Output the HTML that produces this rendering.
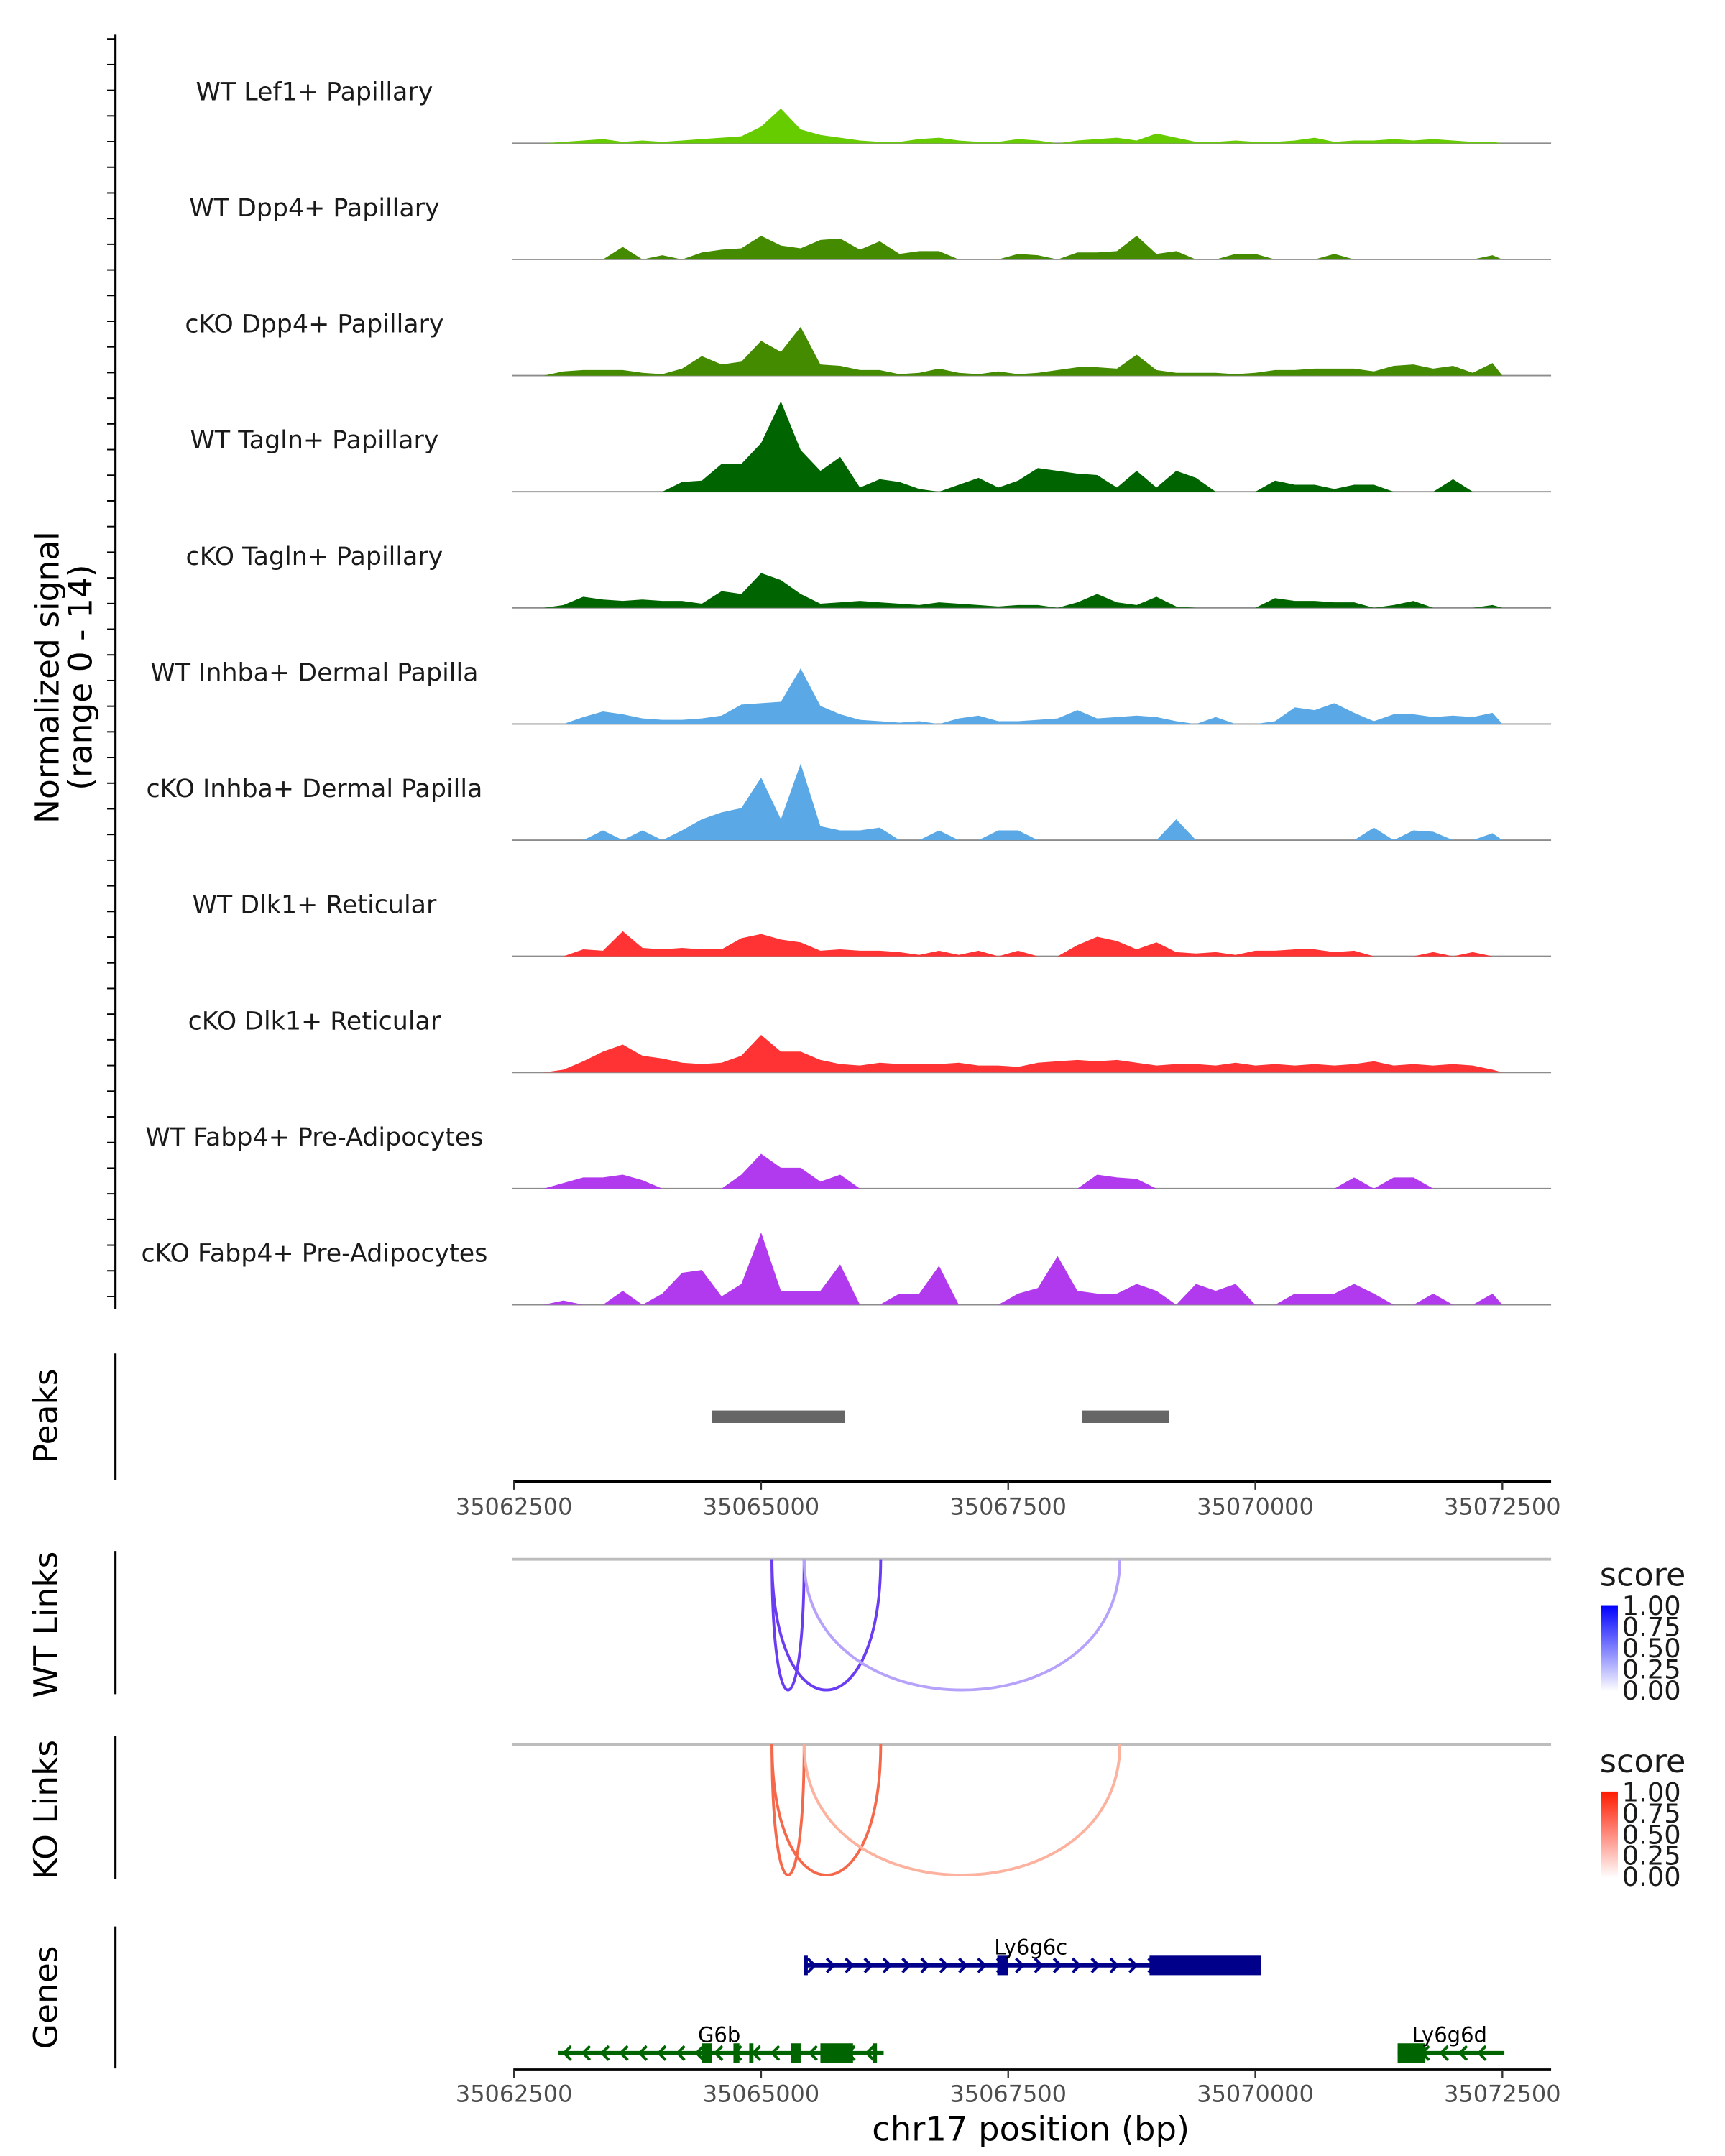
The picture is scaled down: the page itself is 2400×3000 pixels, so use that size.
<!DOCTYPE html>
<html><head><meta charset="utf-8"><style>
html,body{margin:0;padding:0;background:#fff}
svg{display:block;font-family:"DejaVu Sans","Liberation Sans",sans-serif}
</style></head><body>
<svg id="chart" width="2400" height="3000" viewBox="0 0 1240 1550" xmlns="http://www.w3.org/2000/svg"></svg>
<script>
const trackNames=["WT Lef1+ Papillary","WT Dpp4+ Papillary","cKO Dpp4+ Papillary","WT Tagln+ Papillary","cKO Tagln+ Papillary","WT Inhba+ Dermal Papilla","cKO Inhba+ Dermal Papilla","WT Dlk1+ Reticular","cKO Dlk1+ Reticular","WT Fabp4+ Pre-Adipocytes","cKO Fabp4+ Pre-Adipocytes"];
const trackColors=["#66cc00","#458b00","#458b00","#006400","#006400","#5aa9e6","#5aa9e6","#ff3333","#ff3333","#b23aee","#b23aee"];
const binStart=35062500, binSize=200;
const sig0=[0,0,.2,.4,.6,.2,.4,.2,.4,.6,.8,1,2.4,5,2,1.2,.8,.4,.2,.2,.6,.8,.4,.2,.2,.6,.4,0,.4,.6,.8,.4,1.4,.8,.2,.2,.4,.2,.2,.4,.8,.2,.4,.4,.6,.4,.6,.4,.2,.2];
const sig1=[0,0,0,0,0,1.8,0,.6,0,1,1.4,1.6,3.4,2,1.6,2.8,3,1.4,2.6,.8,1.2,1.2,0,0,0,.8,.6,0,1,1,1.2,3.4,.8,1.2,0,0,.8,.8,0,0,0,.8,0,0,0,0,0,0,0,.6];
const sig2=[0,0,.6,.8,.8,.8,.4,.2,1,2.8,1.6,2,5,3.4,7,1.6,1.4,.8,.8,.2,.4,1,.4,.2,.6,.2,.4,.8,1.2,1.2,1,3,.8,.4,.4,.4,.2,.4,.8,.8,1,1,1,.6,1.4,1.6,1,1.4,.4,1.8];
const sig3=[0,0,0,0,0,0,0,0,1.4,1.6,4,4,7,13,6,3,5,.6,1.8,1.4,.4,0,1,2,.6,1.6,3.4,3,2.6,2.4,.6,3,.6,3,2,0,0,0,1.6,1,1,.4,1,1,0,0,0,1.8,0,0];
const sig4=[0,0,.4,1.6,1.2,1,1.2,1,1,.6,2.4,2,5,4,2,.6,.8,1,.8,.6,.4,.8,.6,.4,.2,.4,.4,0,.8,2,.8,.4,1.6,.2,0,0,0,0,1.4,1,1,.8,.8,0,.4,1,0,0,0,.4];
const sig5=[0,0,0,1,1.8,1.4,.8,.6,.6,.8,1.2,2.8,3,3.2,8,2.6,1.4,.6,.4,.2,.4,0,.8,1.2,.4,.4,.6,.8,2,.8,1,1.2,1,.4,0,1,0,0,.4,2.4,2,3,1.6,.4,1.4,1.4,1,1.2,1,1.6];
const sig6=[0,0,0,0,1.4,0,1.4,0,1.4,3,4,4.6,9,3,11,2,1.4,1.4,1.8,0,0,1.4,0,0,1.4,1.4,0,0,0,0,0,0,0,3,0,0,0,0,0,0,0,0,0,1.8,0,1.4,1.2,0,0,1];
const sig7=[0,0,0,1,.8,3.6,1.2,1,1.2,1,1,2.6,3.2,2.4,2,.8,1,.8,.8,.6,.2,.8,.2,.8,0,.8,0,0,1.6,2.8,2.2,1,2,.6,.4,.6,.2,.8,.8,1,1,.6,.8,0,0,0,.6,0,.6,0];
const sig8=[0,0,.4,1.6,3,4,2.4,2,1.4,1.2,1.4,2.4,5.4,3,3,1.8,1.2,1,1.4,1.2,1.2,1.2,1.4,1,1,.8,1.4,1.6,1.8,1.6,1.8,1.4,1,1.2,1.2,1,1.4,1,1.2,1,1.2,1,1.2,1.6,1,1.2,1,1.2,1,.4];
const sig9=[0,0,.8,1.6,1.6,2,1.2,0,0,0,0,2,5,3,3,1,2,0,0,0,0,0,0,0,0,0,0,0,0,2,1.6,1.4,0,0,0,0,0,0,0,0,0,0,1.6,0,1.6,1.6,0,0,0,0];
const sig10=[0,0,.6,0,0,2,0,1.6,4.6,5,1.2,3,10.4,2,2,2,5.8,0,0,1.6,1.6,5.6,0,0,0,1.6,2.4,7,2,1.6,1.6,3,2,0,3,2,3,0,0,1.6,1.6,1.6,3,1.6,0,0,1.6,0,0,1.6];
const signals=[sig0,sig1,sig2,sig3,sig4,sig5,sig6,sig7,sig8,sig9,sig10];
const xTicks=[35062500,35065000,35067500,35070000,35072500];
const peaks=[[35064500,35065850],[35068250,35069130]];
const linkStarts=[35065110,35065110,35065435];
const linkEnds=[35065435,35066210,35068630];
const linkScores=[0.8,0.8,0.35];
const scoreTicks=[1.00,0.75,0.50,0.25,0.00];

const svg=document.getElementById('chart');
const NS="http://www.w3.org/2000/svg";
function el(tag,attrs,parent){const e=document.createElementNS(NS,tag);for(const k in attrs)e.setAttribute(k,attrs[k]);(parent||svg).appendChild(e);return e;}
const X0=369.5,X1=1080;
function xs(bp){return X0+(bp-35062500)/10000*(X1-X0);}
const unitPx=5, yMax=14;
function ys(v,base){return base-Math.min(v,yMax)*unitPx;}

let ax=el('line',{x1:83,y1:25,x2:83,y2:941,stroke:'#000','stroke-width':1.6});


for(let y=28;y<=941;y+=18.45){const t=el('line',{x1:77,y1:y,x2:83,y2:y,stroke:'#000','stroke-width':1});}
let yt=el('text',{x:0,y:0,'font-size':23.5,'text-anchor':'middle',transform:'translate(42,487) rotate(-90)'});


yt.innerHTML='<tspan x="0" dy="0">Normalized signal</tspan><tspan x="0" dy="24">(range 0 - 14)</tspan>';

for(let t=0;t<signals.length;t++){
  const base=103+t*83.5;
  const g=el('g',{});
  
  
  const bl=el('line',{x1:368,y1:base,x2:1115,y2:base,stroke:'#8c8c8c','stroke-width':1},g);
  
  
  let d='M'+xs(binStart)+','+base;
  signals[t].forEach((v,i)=>{const c=xs(binStart+(i+0.5)*binSize);d+=' L'+c+','+ys(v,base);});
  d+=' L'+xs(binStart+signals[t].length*binSize)+','+base+' Z';
  const p=el('path',{d:d,fill:trackColors[t]},g);
  
  
  const lb=el('text',{x:226,y:base-31,'font-size':18,'text-anchor':'middle',fill:'#1a1a1a'},g);
  
  
  lb.textContent=trackNames[t];
}

let pa=el('line',{x1:83,y1:973,x2:83,y2:1064,stroke:'#000','stroke-width':1.6});

let pt=el('text',{x:0,y:0,'font-size':23.5,'text-anchor':'middle',transform:'translate(41,1018) rotate(-90)'});
pt.textContent='Peaks';
peaks.forEach(pk=>{const r=el('rect',{x:xs(pk[0]),y:1014,width:xs(pk[1])-xs(pk[0]),height:9,fill:'#666'});});

function xAxis(y,labY,name){
  const l=el('line',{x1:369,y1:y,x2:1115,y2:y,stroke:'#000','stroke-width':2});
  
  xTicks.forEach(v=>{el('line',{x1:xs(v),y1:y,x2:xs(v),y2:y+6,stroke:'#333','stroke-width':1.2});
    const t=el('text',{x:xs(v),y:labY,'font-size':16.5,'text-anchor':'middle',fill:'#4d4d4d'});
    t.textContent=v;});
}
xAxis(1065,1089,'peaks-x-axis');

function links(top,name,title,colDark,colLight,legTop,legCol){
  const a=el('line',{x1:83,y1:top-6,x2:83,y2:top+97,stroke:'#000','stroke-width':1.6});
  
  const tt=el('text',{x:0,y:0,'font-size':23.5,'text-anchor':'middle',transform:'translate(41,'+(top+47)+') rotate(-90)'});
  tt.textContent=title;
  const bl=el('line',{x1:368,y1:top,x2:1115,y2:top,stroke:'#bdbdbd','stroke-width':2});
  
  const depth=94;
  linkStarts.forEach((s,i)=>{const x1=xs(s),x2=xs(linkEnds[i]),k=depth*4/3;
    const c=linkScores[i]>0.5?colDark:colLight;
    const p=el('path',{d:`M${x1},${top} C${x1},${top+k} ${x2},${top+k} ${x2},${top}`,fill:'none',stroke:c,'stroke-width':2});
    });
  const lt=el('text',{x:1150,y:legTop,'font-size':23,fill:'#1a1a1a'});
  lt.textContent='score';
  const gid='g'+name;
  const gr=el('linearGradient',{id:gid,x1:0,y1:0,x2:0,y2:1});
  el('stop',{offset:0,'stop-color':legCol},gr);el('stop',{offset:1,'stop-color':'#ffffff'},gr);
  const cb=el('rect',{x:1151,y:legTop+14,width:12,height:62,fill:`url(#${gid})`});
  
  scoreTicks.forEach((s,i)=>{const t=el('text',{x:1166,y:legTop+21+i*15.2,'font-size':19,fill:'#1a1a1a'});
    t.textContent=s.toFixed(2);});
}
links(1121,'wt-links','WT Links','#6a3cf2','#b7a2fb',1140,'#0000ff');
links(1254,'ko-links','KO Links','#f5684a','#fcb29f',1274,'#ff1a00');

let ga=el('line',{x1:83,y1:1385,x2:83,y2:1487,stroke:'#000','stroke-width':1.6});

let gt=el('text',{x:0,y:0,'font-size':23.5,'text-anchor':'middle',transform:'translate(41,1436) rotate(-90)'});
gt.textContent='Genes';
function gene(name,y,start,end,exons,dir,col,lx){
  const g=el('g',{});
  el('line',{x1:xs(start),y1:y,x2:xs(end),y2:y,stroke:col,'stroke-width':3},g);
  for(let x=xs(start)+6;x<xs(end)-4;x+=13.6){
    const d=dir>0?`M${x-3},${y-5} L${x+2},${y} L${x-3},${y+5}`:`M${x+3},${y-5} L${x-2},${y} L${x+3},${y+5}`;
    el('path',{d:d,fill:'none',stroke:col,'stroke-width':2},g);}
  exons.forEach(e=>{const h=e[2];el('rect',{x:xs(e[0]),y:y-h/2,width:Math.max(3,xs(e[1])-xs(e[0])),height:h,fill:col},g);});
  const t=el('text',{x:lx,y:y-8,'font-size':15,'text-anchor':'middle',fill:'#000'},g);
  t.textContent=name;
}
gene('Ly6g6c',1413,35065430,35070060,[[35065430,35065470,14],[35067390,35067500,14],[35068930,35070060,14]],1,'#00008b',741);
gene('G6b',1476,35062950,35066240,[[35064400,35064500,14],[35064720,35064780,14],[35064880,35064920,14],[35065300,35065400,14],[35065600,35065930,14],[35066130,35066170,14]],-1,'#006400',517);
gene('Ly6g6d',1476,35071440,35072520,[[35071440,35071720,14]],-1,'#006400',1042);

xAxis(1488,1511,'genes-x-axis');
let xt=el('text',{x:741,y:1539,'font-size':24,'text-anchor':'middle',fill:'#000'});
xt.textContent='chr17 position (bp)';
</script>
</body></html>
